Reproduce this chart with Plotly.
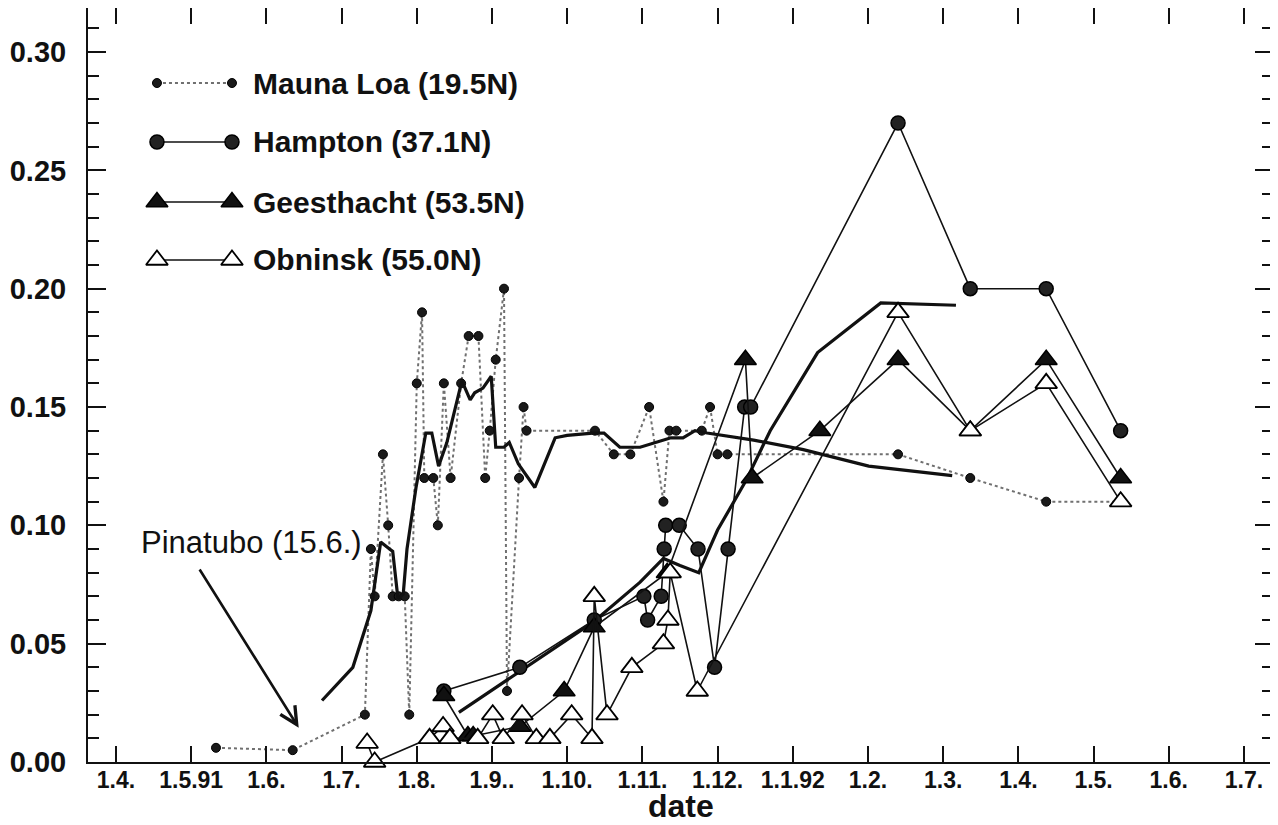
import plotly.graph_objects as go

# x values: months after 1 April 1991 (tick 0 = 1.4.91, tick 9 = 1.1.92)
tick_vals = list(range(16))
tick_text = ["1.4.", "1.5.91", "1.6.", "1.7.", "1.8.", "1.9..", "1.10.", "1.11.",
             "1.12.", "1.1.92", "1.2.", "1.3.", "1.4.", "1.5.", "1.6.", "1.7."]

ml_x = [1.33, 2.35, 3.31, 3.39, 3.44, 3.55, 3.62, 3.68, 3.76, 3.84, 3.90, 4.00, 4.07, 4.10,
        4.22, 4.28, 4.36, 4.45, 4.59, 4.69, 4.82, 4.91, 4.97, 5.05, 5.16, 5.20, 5.36, 5.42,
        5.46, 6.37, 6.62, 6.84, 7.09, 7.28, 7.36, 7.45, 7.79, 7.90, 8.00, 8.13, 10.40,
        11.36, 12.37, 13.36]
ml_y = [0.006, 0.005, 0.02, 0.09, 0.07, 0.13, 0.10, 0.07, 0.07, 0.07, 0.02, 0.16, 0.19, 0.12,
        0.12, 0.10, 0.16, 0.12, 0.16, 0.18, 0.18, 0.12, 0.14, 0.17, 0.20, 0.03, 0.12, 0.15,
        0.14, 0.14, 0.13, 0.13, 0.15, 0.11, 0.14, 0.14, 0.14, 0.15, 0.13, 0.13, 0.13,
        0.12, 0.11, 0.11]

ml_mean_x = [2.74, 3.15, 3.39, 3.52, 3.60, 3.68, 3.75, 3.82, 3.87, 3.94, 3.99, 4.12, 4.20,
             4.29, 4.40, 4.60, 4.71, 4.77, 4.88, 4.99, 5.05, 5.16, 5.23, 5.35, 5.57, 5.84,
             6.00, 6.34, 6.49, 6.70, 6.97, 7.38, 7.54, 7.70, 7.86, 8.48, 9.14, 10.01, 11.12]
ml_mean_y = [0.026, 0.040, 0.064, 0.093, 0.091, 0.089, 0.069, 0.071, 0.090, 0.106, 0.116,
             0.139, 0.139, 0.125, 0.135, 0.161, 0.153, 0.156, 0.158, 0.163, 0.133, 0.133,
             0.135, 0.126, 0.116, 0.137, 0.138, 0.139, 0.139, 0.133, 0.133, 0.137, 0.137,
             0.140, 0.139, 0.136, 0.132, 0.125, 0.121]

ha_x = [4.36, 5.37, 6.36, 7.02, 7.07, 7.25, 7.29, 7.31, 7.49, 7.74, 7.96, 8.14, 8.36, 8.44,
        10.40, 11.36, 12.37, 13.36]
ha_y = [0.03, 0.04, 0.06, 0.07, 0.06, 0.07, 0.09, 0.10, 0.10, 0.09, 0.04, 0.09, 0.15, 0.15,
        0.27, 0.20, 0.20, 0.14]

ha_mean_x = [4.56, 6.34, 6.97, 7.28, 7.50, 7.75, 8.00, 8.38, 8.70, 9.33, 10.17, 11.17]
ha_mean_y = [0.021, 0.059, 0.076, 0.086, 0.083, 0.080, 0.098, 0.119, 0.140, 0.173, 0.194, 0.193]

ge_x = [4.36, 4.68, 4.75, 5.37, 5.96, 6.36, 7.33, 8.37, 8.46, 9.36, 10.40, 11.36, 12.37, 13.36]
ge_y = [0.028, 0.011, 0.011, 0.015, 0.03, 0.057, 0.08, 0.17, 0.12, 0.14, 0.17, 0.14, 0.17, 0.12]

ob_x = [3.34, 3.44, 4.17, 4.35, 4.44, 4.81, 5.01, 5.15, 5.40, 5.59, 5.77, 6.06, 6.33, 6.36,
        6.53, 6.86, 7.28, 7.34, 7.37, 7.73, 10.40, 11.36, 12.37, 13.36]
ob_y = [0.008, 0.0, 0.01, 0.015, 0.01, 0.01, 0.02, 0.01, 0.02, 0.01, 0.01, 0.02, 0.01, 0.07,
        0.02, 0.04, 0.05, 0.06, 0.08, 0.03, 0.19, 0.14, 0.16, 0.11]

legend_names = ["Mauna Loa (19.5N)", "Hampton (37.1N)", "Geesthacht (53.5N)", "Obninsk (55.0N)"]

FONT = "Liberation Sans, Arial, Helvetica, sans-serif"
BLACK = "#111111"

ml_marker = dict(symbol="circle", size=9, color="#1a1a1a", line=dict(color="#000", width=1))
ha_marker = dict(symbol="circle", size=14, color="#222222", line=dict(color="#000", width=1.5))
ge_marker = dict(symbol="triangle-up", size=19, color="#111111", line=dict(color="#000", width=1.5))
ob_marker = dict(symbol="triangle-up", size=19, color="white", line=dict(color="#000", width=1.8))

ml_line = dict(color="#707070", width=2, dash="dot")
thin = dict(color=BLACK, width=1.6)
thick = dict(color=BLACK, width=3.2)

fig = go.Figure()
fig.add_trace(go.Scatter(x=ml_x, y=ml_y, mode="lines+markers", line=ml_line, marker=ml_marker,
                         cliponaxis=False, showlegend=False))
fig.add_trace(go.Scatter(x=ml_mean_x, y=ml_mean_y, mode="lines", line=thick, showlegend=False))
fig.add_trace(go.Scatter(x=ha_mean_x, y=ha_mean_y, mode="lines", line=thick, showlegend=False))
fig.add_trace(go.Scatter(x=ha_x, y=ha_y, mode="lines+markers", line=thin, marker=ha_marker,
                         cliponaxis=False, showlegend=False))
fig.add_trace(go.Scatter(x=ge_x, y=ge_y, mode="lines+markers", line=thin, marker=ge_marker,
                         cliponaxis=False, showlegend=False))
fig.add_trace(go.Scatter(x=ob_x, y=ob_y, mode="lines+markers", line=thin, marker=ob_marker,
                         cliponaxis=False, showlegend=False))

# ---- legend drawn on an overlay axis (fractions of the plot area) ----
leg_y = [0.9005, 0.8223, 0.7427, 0.6658]
leg_x0, leg_x1, leg_tx = 0.0582, 0.1215, 0.1376
styles = [(ml_line, ml_marker), (thin, ha_marker), (thin, ge_marker), (thin, ob_marker)]
for name, yy, (ln, mk) in zip(legend_names, leg_y, styles):
    fig.add_trace(go.Scatter(x=[leg_x0, leg_x1], y=[yy, yy], mode="lines+markers", line=ln,
                             marker=mk, xaxis="x2", yaxis="y2", showlegend=False,
                             cliponaxis=False))
    fig.add_annotation(x=leg_tx, y=yy, xref="x2", yref="y2", text=name, showarrow=False,
                       xanchor="left", yanchor="middle",
                       font=dict(family=FONT, size=30, color=BLACK, weight="bold"))

# Pinatubo label and arrow
fig.add_annotation(x=0.043, y=0.2905, xref="x2", yref="y2", text="Pinatubo (15.6.)",
                   showarrow=False, xanchor="left", yanchor="middle",
                   font=dict(family=FONT, size=31, color=BLACK))
fig.add_annotation(x=2.43, y=0.0145, xref="x", yref="y", ax=1.10, ay=0.082, axref="x", ayref="y",
                   text="", showarrow=True, arrowhead=5, arrowsize=1.3, arrowwidth=2.6,
                   arrowcolor=BLACK)

# x-axis title
fig.add_annotation(x=0.5, y=-0.0584, xref="paper", yref="paper", text="date", showarrow=False,
                   xanchor="center", yanchor="middle",
                   font=dict(family=FONT, size=32, color=BLACK, weight="bold"))

axis_common = dict(showline=True, linecolor=BLACK, linewidth=2, mirror="ticks",
                   ticks="inside", tickcolor=BLACK, tickwidth=1.6, showgrid=False,
                   zeroline=False, automargin=False)

fig.update_layout(
    width=1278, height=825,
    margin=dict(l=80, r=13, t=0, b=71),
    paper_bgcolor="white", plot_bgcolor="white",
    showlegend=False,
    xaxis=dict(range=[-0.372, 15.386], tickmode="array", tickvals=tick_vals, ticktext=tick_text,
               ticklen=16, tickfont=dict(family=FONT, size=23, color=BLACK, weight="bold"),
               ticklabelstandoff=-4,
               **axis_common),
    yaxis=dict(range=[0, 0.3186], tickmode="linear", tick0=0, dtick=0.05, tickformat=".2f",
               ticklen=18, tickfont=dict(family=FONT, size=29, color=BLACK, weight="bold"),
               ticklabelstandoff=14,
               minor=dict(ticks="inside", dtick=0.01, ticklen=11, tickwidth=1.5, tickcolor=BLACK),
               **axis_common),
    xaxis2=dict(overlaying="x", range=[0, 1], visible=False, fixedrange=True),
    yaxis2=dict(overlaying="y", range=[0, 1], visible=False, fixedrange=True),
)

fig.write_html("out.html")
